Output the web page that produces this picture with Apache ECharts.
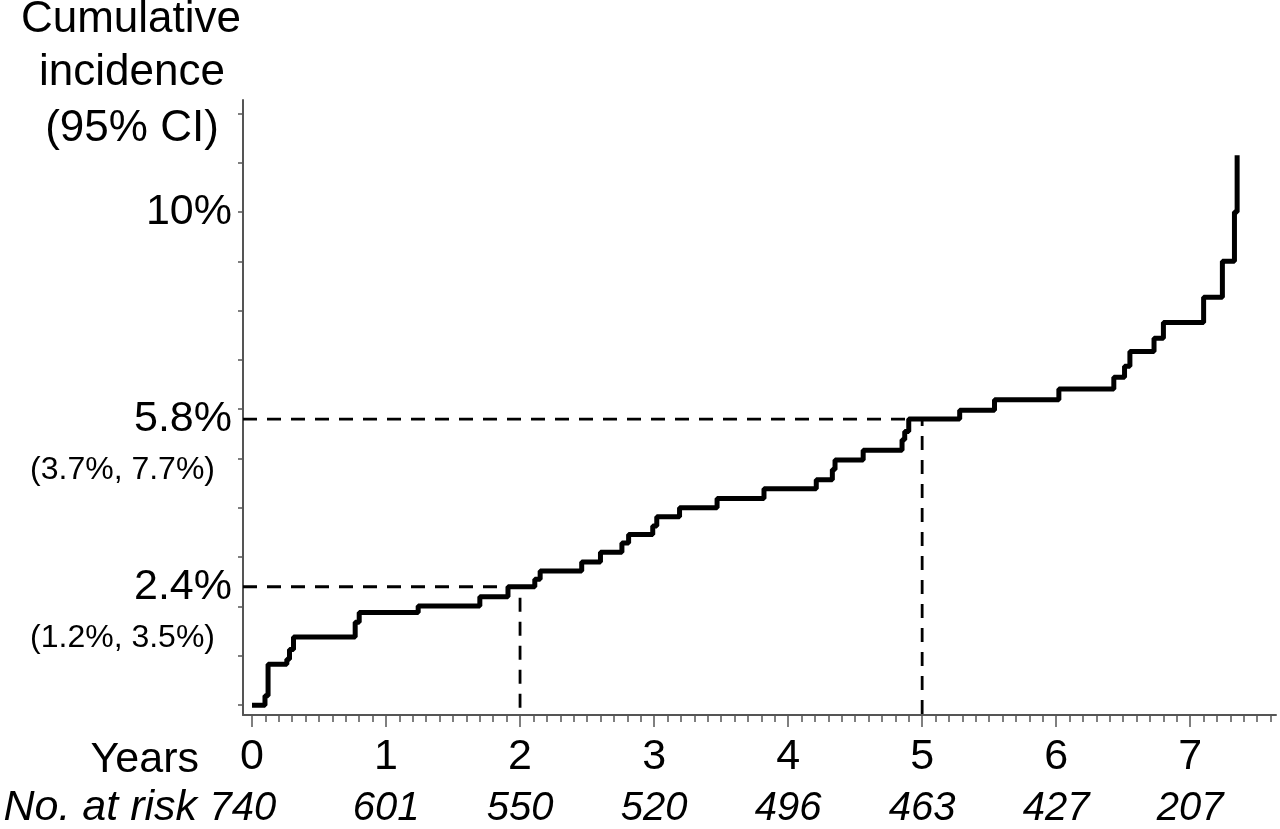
<!DOCTYPE html>
<html><head><meta charset="utf-8">
<script src="https://cdn.jsdelivr.net/npm/echarts@6/dist/echarts.min.js"></script>
<style>html,body{margin:0;padding:0;background:#fff}#c{width:1280px;height:829px}</style>
</head><body><div id="c"></div>
<script>
// ---- data ----
const years = [0, 1, 2, 3, 4, 5, 6, 7];
const atRisk = [740, 601, 550, 520, 496, 463, 427, 207];
const yTicks = [0, 1, 2, 3, 4, 5, 6, 7, 8, 9, 10, 11, 12];
const yLabelValues = [2.4, 5.8, 10];
const yLabelText = ['2.4%', '5.8%', '10%'];
const ciValues = [2.4, 5.8];
const ciText = ['(1.2%, 3.5%)', '(3.7%, 7.7%)'];
const eventTimes = [0, 0.097, 0.12, 0.26, 0.28, 0.31, 0.77, 0.80, 1.24, 1.70, 1.91, 2.11, 2.15, 2.46, 2.60, 2.76, 2.81, 2.99, 3.02, 3.19, 3.47, 3.82, 4.21, 4.33, 4.35, 4.56, 4.85, 4.87, 4.90, 5.28, 5.54, 6.02, 6.43, 6.51, 6.55, 6.73, 6.80, 7.10, 7.24, 7.33, 7.35];
const cumInc =     [0, 0.19, 0.83, 0.93, 1.13, 1.38, 1.68, 1.88, 2.01, 2.20, 2.40, 2.55, 2.72, 2.90, 3.10, 3.29, 3.46, 3.63, 3.82, 4.00, 4.19, 4.39, 4.57, 4.78, 4.97, 5.17, 5.38, 5.55, 5.80, 5.98, 6.19, 6.41, 6.65, 6.87, 7.17, 7.44, 7.76, 8.27, 9.00, 10.0, 11.15];
const refTimes = [2, 5];
const refIncidence = [2.4, 5.8];

// ---- axis ranges ----
const XMIN = -0.067, XMAX = 7.64;
const YMIN = -0.2, YMAX = 12.27;
const minorTicks = [];
for (let i = 0; i <= 76; i++) { if (i % 10 !== 0) minorTicks.push(i / 10); }

const FONT = '"Liberation Sans", Arial, sans-serif';
const chart = echarts.init(document.getElementById('c'), null, {renderer: 'canvas'});

const refSeries = refTimes.map((t, i) => ({
  type: 'line', xAxisIndex: 0, yAxisIndex: 0, symbol: 'none', z: 2, silent: true,
  data: [[XMIN, refIncidence[i]], [t, refIncidence[i]], [t, YMIN]],
  lineStyle: {color: '#000', width: 2.8, type: [14, 10]}
}));

chart.setOption({
  animation: false,
  backgroundColor: '#fff',
  textStyle: {fontFamily: FONT},
  grid: {left: 243, right: 4, top: 100, bottom: 113, containLabel: false},
  xAxis: [
    {
      type: 'value', min: XMIN, max: XMAX, position: 'bottom',
      axisLine: {show: true, onZero: false, lineStyle: {color: '#555', width: 2}},
      axisTick: {show: true, customValues: years, length: 12, lineStyle: {color: '#555', width: 1.5}},
      axisLabel: {show: true, customValues: years, fontSize: 43, color: '#000', margin: 21, fontFamily: FONT},
      splitLine: {show: false}
    },
    {
      type: 'value', min: XMIN, max: XMAX, position: 'bottom',
      axisLine: {show: false, onZero: false},
      axisTick: {show: true, customValues: minorTicks, length: 7, lineStyle: {color: '#555', width: 1.5}},
      axisLabel: {show: false},
      splitLine: {show: false}
    },
    {
      type: 'value', min: XMIN, max: XMAX, position: 'bottom',
      axisLine: {show: false, onZero: false},
      axisTick: {show: false},
      axisLabel: {
        show: true, customValues: years, margin: 74, fontSize: 40, fontStyle: 'italic', color: '#000', fontFamily: FONT,
        formatter: v => { const i = years.indexOf(Math.round(v)); return i === 0 ? '{f|' + atRisk[i] + '}' : String(atRisk[i]); },
        rich: {f: {fontSize: 40, fontStyle: 'italic', fontFamily: FONT, color: '#000', padding: [0, 18, 0, 0]}}
      },
      splitLine: {show: false}
    }
  ],
  yAxis: [
    {
      type: 'value', min: YMIN, max: YMAX, position: 'left',
      axisLine: {show: true, onZero: false, lineStyle: {color: '#555', width: 2}},
      axisTick: {show: true, customValues: yTicks, length: 5, lineStyle: {color: '#555', width: 1.5}},
      axisLabel: {
        show: true, customValues: yLabelValues, fontSize: 43, color: '#000', margin: 11, fontFamily: FONT,
        formatter: v => yLabelText[yLabelValues.indexOf(v)]
      },
      splitLine: {show: false}
    },
    {
      type: 'value', min: YMIN, max: YMAX, position: 'left',
      axisLine: {show: false, onZero: false},
      axisTick: {show: false},
      axisLabel: {
        show: true, customValues: ciValues, fontSize: 32, color: '#000', margin: 28, fontFamily: FONT,
        verticalAlign: 'top', padding: [35, 0, 0, 0],
        formatter: v => ciText[ciValues.indexOf(v)]
      },
      splitLine: {show: false}
    }
  ],
  graphic: [
    {type: 'text', x: 131, y: 20, style: {text: 'Cumulative', font: '44px ' + FONT, fill: '#000', textAlign: 'center', textVerticalAlign: 'middle'}},
    {type: 'text', x: 132, y: 73, style: {text: 'incidence', font: '44px ' + FONT, fill: '#000', textAlign: 'center', textVerticalAlign: 'middle'}},
    {type: 'text', x: 132, y: 129, style: {text: '(95% CI)', font: '44px ' + FONT, fill: '#000', textAlign: 'center', textVerticalAlign: 'middle'}},
    {type: 'text', x: 199, y: 760, style: {text: 'Years', font: '43px ' + FONT, fill: '#000', textAlign: 'right', textVerticalAlign: 'middle'}},
    {type: 'text', x: 197, y: 808, style: {text: 'No. at risk', font: 'italic 43px ' + FONT, fill: '#000', textAlign: 'right', textVerticalAlign: 'middle'}}
  ],
  series: refSeries.concat([{
    type: 'line', step: 'end', xAxisIndex: 0, yAxisIndex: 0, symbol: 'none', z: 3, silent: true,
    data: eventTimes.map((t, i) => [t, cumInc[i]]),
    lineStyle: {color: '#000', width: 5}
  }])
});
</script></body></html>
